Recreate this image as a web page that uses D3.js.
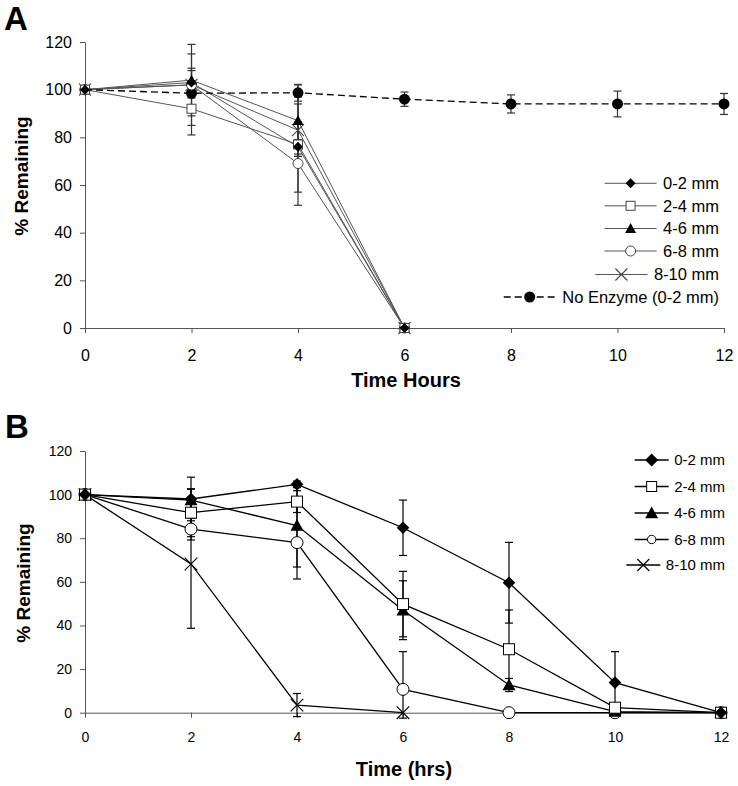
<!DOCTYPE html>
<html><head><meta charset="utf-8">
<script src="https://cdn.jsdelivr.net/npm/d3@7"></script>
<style>
body{margin:0;background:#fff}
text{font-family:"Liberation Sans",Arial,Helvetica,sans-serif}
</style>
</head><body>
<svg id="c" width="738" height="786"></svg>
<script>
// ---------- DATA ----------
const xTicks = [0, 2, 4, 6, 8, 10, 12];
const yTicks = [0, 20, 40, 60, 80, 100, 120];
const seriesNames = ["0-2 mm", "2-4 mm", "4-6 mm", "6-8 mm", "8-10 mm"];
const noEnzymeName = "No Enzyme (0-2 mm)";

// Panel A
const timesA = [0, 2, 4, 6];
const timesANoEnz = [0, 2, 4, 6, 8, 10, 12];
const a_0_2  = [100, 103, 76, 0];
const a_2_4  = [100, 92, 77, 0];
const a_4_6  = [100, 104, 87, 0];
const a_6_8  = [100, 102, 69, 0];
const a_8_10 = [100, 102, 83, 0];
const a_noEnz = [100, 98.5, 98.7, 96, 94, 94, 94];
const aErr_0_2  = [1, 5, 3, 0];
const aErr_2_4  = [1, 11, 20, 0];
const aErr_4_6  = [1, 5, 15, 0];
const aErr_6_8  = [1, 17, 17.5, 0];
const aErr_8_10 = [1, 13, 11, 0];
const aErr_noEnz = [1.5, 2, 3.5, 3, 3.8, 5.4, 4.4];

// Panel B
const timesB = [0, 2, 4, 6, 8, 10, 12];
const timesB_8_10 = [0, 2, 4, 6];
const b_0_2  = [100, 98, 104.7, 84.8, 59.6, 13.8, 0];
const b_2_4  = [100, 91.7, 96.8, 49.8, 29.1, 2.3, 0];
const b_4_6  = [100, 97.5, 85.8, 47, 12.7, 0.5, 0];
const b_6_8  = [100, 84.2, 78, 10.7, 0, 0, 0];
const b_8_10 = [100, 68.2, 3.5, 0];
const bErr_0_2  = [1, 10, 1.5, 12.7, 18.5, 14.2, 0];
const bErr_2_4  = [1, 11, 5, 15, 18, 0.5, 0];
const bErr_4_6  = [1, 5, 19, 13.5, 3, 0.5, 0];
const bErr_6_8  = [1, 5, 16.7, 17.3, 0, 0, 0];
const bErr_8_10 = [1, 29.5, 5.3, 0];

const markerTypes = ["diamond", "square", "triangle", "circle", "x"];

// ---------- DRAW ----------
const svg = d3.select("#c");

function marker(g, type, cx, cy, s, col) {
  if (type === "diamond") {
    g.append("path").attr("d", `M${cx},${cy - s}L${cx + s},${cy}L${cx},${cy + s}L${cx - s},${cy}Z`).attr("fill", "#000");
  } else if (type === "square") {
    g.append("rect").attr("x", cx - s).attr("y", cy - s).attr("width", 2 * s).attr("height", 2 * s)
      .attr("fill", "#fff").attr("stroke", col).attr("stroke-width", 1);
  } else if (type === "triangle") {
    g.append("path").attr("d", `M${cx},${cy - s}L${cx + s},${cy + s * 0.8}L${cx - s},${cy + s * 0.8}Z`).attr("fill", "#000");
  } else if (type === "circle") {
    g.append("circle").attr("cx", cx).attr("cy", cy).attr("r", s).attr("fill", "#fff").attr("stroke", col).attr("stroke-width", 1);
  } else if (type === "x") {
    g.append("path").attr("d", `M${cx - s},${cy - s}L${cx + s},${cy + s}M${cx - s},${cy + s}L${cx + s},${cy - s}`)
      .attr("stroke", col).attr("stroke-width", 1.1).attr("fill", "none");
  } else if (type === "dot") {
    g.append("circle").attr("cx", cx).attr("cy", cy).attr("r", s).attr("fill", "#000");
  }
}

function drawPanel(cfg) {
  const x = d3.scaleLinear().domain([0, 12]).range(cfg.xr);
  const y = d3.scaleLinear().domain([0, 120]).range(cfg.yr);
  const g = svg.append("g");

  // axes
  const ax = g.append("g").attr("transform", `translate(0,${cfg.yr[0]})`)
    .call(d3.axisBottom(x).tickValues(xTicks).tickSize(5).tickSizeOuter(0).tickPadding(cfg.xPad));
  const ay = g.append("g").attr("transform", `translate(${cfg.xr[0]},0)`)
    .call(d3.axisLeft(y).tickValues(yTicks).tickSize(5).tickSizeOuter(0).tickPadding(8));
  [ax, ay].forEach(a => {
    a.select(".domain").attr("stroke", "#555").attr("stroke-width", 1);
    a.selectAll(".tick line").attr("stroke", "#555");
    a.selectAll(".tick text").attr("fill", "#000").style("font-size", cfg.tickFont + "px")
      .style("font-family", '"Liberation Sans",Arial,sans-serif');
  });

  // series lines
  cfg.series.forEach(s => {
    const pts = s.t.map((t, i) => ({ t, v: s.v[i], e: s.e[i] }));
    const line = d3.line().x(d => x(d.t)).y(d => y(d.v));
    g.append("path").datum(pts).attr("d", line).attr("fill", "none")
      .attr("stroke", s.lineCol).attr("stroke-width", s.lw)
      .attr("stroke-dasharray", s.dash || null);
  });
  // error bars
  cfg.series.forEach(s => {
    const pts = s.t.map((t, i) => ({ t, v: s.v[i], e: s.e[i] }));
    const eg = g.append("g").attr("stroke", cfg.errCol).attr("stroke-width", 1.2);
    pts.forEach(d => {
      if (!d.e) return;
      const cx = x(d.t), y1 = y(d.v + d.e), y2 = y(Math.max(d.v - d.e, -2.5));
      eg.append("line").attr("x1", cx).attr("x2", cx).attr("y1", y1).attr("y2", y2);
      eg.append("line").attr("x1", cx - 4).attr("x2", cx + 4).attr("y1", y1).attr("y2", y1);
      eg.append("line").attr("x1", cx - 4).attr("x2", cx + 4).attr("y1", y2).attr("y2", y2);
    });
  });
  // markers (drawn in reverse series order so the filled 0-2 mm marks sit on top)
  cfg.series.slice().reverse().forEach(s => {
    const mg = g.append("g");
    s.t.forEach((t, i) => marker(mg, s.m, x(t), y(s.v[i]), s.ms, s.mCol));
  });

  // legend
  const lg = g.append("g");
  cfg.series.forEach((s, i) => {
    const ry = cfg.legY[i];
    const tx = lg.append("text").attr("x", cfg.legRight).attr("y", ry).attr("dy", "0.36em")
      .attr("text-anchor", "end").style("font-size", cfg.legFont + "px").text(s.name);
    const w = tx.node().getComputedTextLength();
    const x2 = cfg.legRight - w - cfg.legGap, x1 = x2 - cfg.legLen;
    lg.append("line").attr("x1", x1).attr("x2", x2).attr("y1", ry).attr("y2", ry)
      .attr("stroke", s.lineCol).attr("stroke-width", s.lw).attr("stroke-dasharray", s.dash || null);
    marker(lg, s.m, (x1 + x2) / 2, ry, s.lms, s.mCol);
  });

  // titles
  g.append("text").attr("x", cfg.panelX).attr("y", cfg.panelY).style("font-size", "33px")
    .style("font-weight", "bold").text(cfg.panel);
  g.append("text").attr("transform", `translate(${cfg.yTitleX},${cfg.yTitleY}) rotate(-90)`)
    .attr("text-anchor", "middle").style("font-size", "19px").style("font-weight", "bold").text("% Remaining");
  g.append("text").attr("x", cfg.xTitleX).attr("y", cfg.xTitleY).attr("text-anchor", "middle")
    .style("font-size", "20px").style("font-weight", "bold").text(cfg.xTitle);
}

// Panel A config
const aVals = [a_0_2, a_2_4, a_4_6, a_6_8, a_8_10];
const aErrs = [aErr_0_2, aErr_2_4, aErr_4_6, aErr_6_8, aErr_8_10];
const aMS = [5, 4.5, 5.5, 5, 6];
const seriesA = [{ name: noEnzymeName, t: timesANoEnz, v: a_noEnz, e: aErr_noEnz, m: "dot", ms: 5.5, lms: 5.5,
  lineCol: "#000", lw: 1.3, dash: "7,4", mCol: "#000", legendLast: true }];
seriesNames.forEach((n, i) => seriesA.push({
  name: n, t: timesA, v: aVals[i], e: aErrs[i], m: markerTypes[i], ms: aMS[i], lms: aMS[i],
  lineCol: "#555", lw: 1, mCol: "#444"
}));
// legend order: the five depth series, then No Enzyme
const seriesAOrdered = seriesA.slice(1).concat(seriesA.slice(0, 1));

drawPanel({
  xr: [85, 724], yr: [328, 42], xPad: 17, tickFont: 16, errCol: "#333",
  series: seriesAOrdered, legY: [183.3, 205.8, 228.5, 251, 274.5, 297], legRight: 719, legFont: 16.5, legGap: 6.5, legLen: 52,
  panel: "A", panelX: 4, panelY: 30, yTitleX: 28, yTitleY: 176, xTitle: "Time Hours", xTitleX: 406, xTitleY: 387
});

// Panel B config
const bVals = [b_0_2, b_2_4, b_4_6, b_6_8, b_8_10];
const bErrs = [bErr_0_2, bErr_2_4, bErr_4_6, bErr_6_8, bErr_8_10];
const bTimes = [timesB, timesB, timesB, timesB, timesB_8_10];
const bMS = [6.3, 5.5, 6.5, 6, 6.3];
const bLMS = [6.5, 5, 6.5, 4.2, 6];
const seriesB = seriesNames.map((n, i) => ({
  name: n, t: bTimes[i], v: bVals[i], e: bErrs[i], m: markerTypes[i], ms: bMS[i], lms: bLMS[i],
  lineCol: "#000", lw: 1.3, mCol: "#000"
}));

drawPanel({
  xr: [85, 721], yr: [712.7, 451], xPad: 14, tickFont: 14, errCol: "#000",
  series: seriesB, legY: [460, 486.5, 513, 539.5, 565], legRight: 725, legFont: 15, legGap: 5.5, legLen: 34,
  panel: "B", panelX: 5, panelY: 438, yTitleX: 30, yTitleY: 583, xTitle: "Time (hrs)", xTitleX: 404, xTitleY: 776
});
</script>
</body></html>
